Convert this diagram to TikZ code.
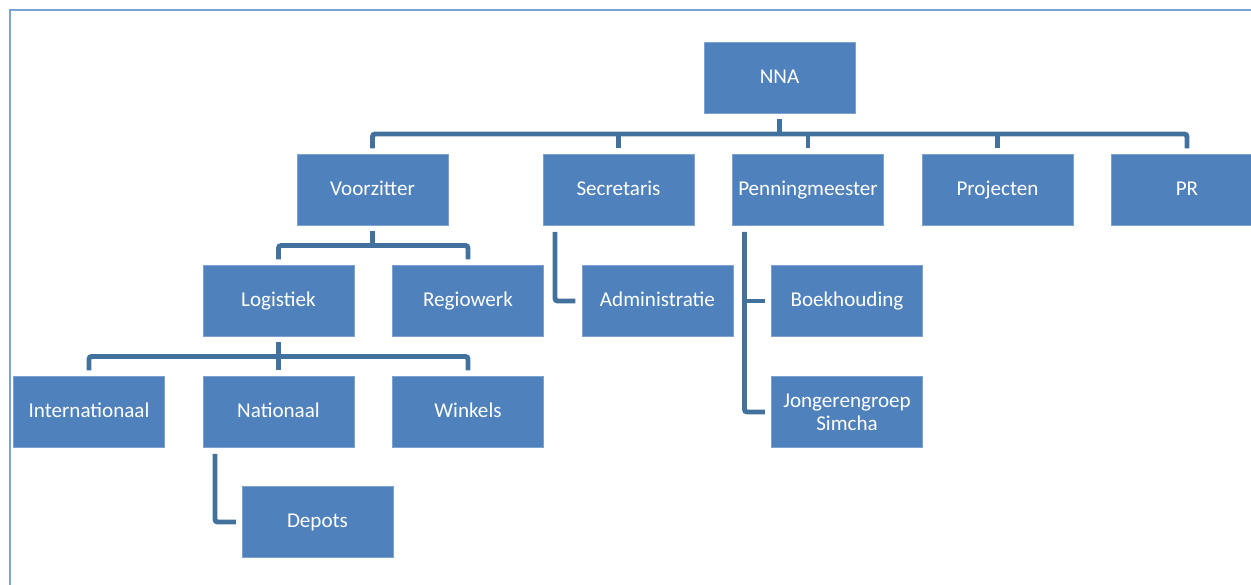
\documentclass[tikz,border=0pt]{standalone}
\usepackage{fontspec}
\setmainfont{Carlito}
\usetikzlibrary{positioning}
\definecolor{boxblue}{HTML}{4F81BD}
\definecolor{boxedge}{HTML}{7EA1CF}
\definecolor{linkblue}{HTML}{41719C}
\definecolor{frameblue}{HTML}{7BA2D5}

\begin{document}
\begin{tikzpicture} [
    every node/.style={draw=boxedge, fill=boxblue, text=white, line width=0.4pt,
      minimum width=3.02cm, minimum height=1.42cm, inner sep=2pt, outer sep=0pt,
      text height=1.65ex, text depth=0.45ex,
      font=\fontsize{12}{13}\selectfont, align=center},
    link/.style={draw=linkblue, line width=2.8pt, rounded corners=1.5pt},
    frame/.style={draw=frameblue, line width=0.8pt}
  ]

  \useasboundingbox (-15.59,-10.14) rectangle (9.43,1.56);
  \draw[frame] (-15.39,-10.14) -- (-15.39,1.36) -- (9.43,1.36);

  % Nodes and Positions
  % LEVEL 0 (TOP)
  \node (NNA) {NNA};

  % LEVEL -1
  \node (SECR) [below left=0.82cm and 0.2cm of NNA] {Secretaris};
  \node (PENN) [right=0.77cm of SECR] {Penningmeester};
  \node (PROJ) [right=0.77cm of PENN] {Projecten};
  \node (PR) [right=0.77cm of PROJ] {PR};
  \node (VOORZ) [left=1.9cm of SECR] {Voorzitter};

  % LEVEL -2
  \node (ADMIN) [below=0.8cm of SECR, xshift=0.78cm] {Administratie};
  \node (REGIO) [left=0.77cm of ADMIN] {Regiowerk};
  \node (LOGI) [left=0.77cm of REGIO] {Logistiek};
  \node (BOEK) [below=0.8cm of PENN, xshift=0.78cm] {Boekhouding};

  % LEVEL -3
  \node (NATIO) [below=0.8cm of LOGI] {Nationaal};
  \node (INTER) [left=0.77cm of NATIO] {Internationaal};
  \node (WINK) [right=0.77cm of NATIO] {Winkels};
  \node (JONG) [below=0.8cm of BOEK, text height=, text depth=] {Jongerengroep\\Simcha};

  % LEVEL -4
  \node (DEPOT) [below=0.78cm of NATIO, xshift=0.78cm] {Depots};

  % Edges
  \coordinate (busNNA) at ([yshift=-0.41cm]NNA.south);
  \draw[link] ([yshift=-0.12cm]NNA.south) -- (busNNA);
  \draw[link] ([yshift=0.12cm]VOORZ.north) |- (busNNA) -| ([yshift=0.12cm]PR.north);
  \foreach \n in {SECR, PENN, PROJ}
    \draw[link] ([yshift=0.12cm]\n.north) -- (\n.north |- busNNA);

  \coordinate (busVOORZ) at ([yshift=-0.4cm]VOORZ.south);
  \draw[link] ([yshift=-0.12cm]VOORZ.south) -- (busVOORZ);
  \draw[link] ([yshift=0.12cm]LOGI.north) |- (busVOORZ) -| ([yshift=0.12cm]REGIO.north);

  \coordinate (busLOGI) at ([yshift=-0.4cm]LOGI.south);
  \draw[link] ([yshift=-0.12cm]LOGI.south) -- (busLOGI);
  \draw[link] ([yshift=0.12cm]INTER.north) |- (busLOGI) -| ([yshift=0.12cm]WINK.north);
  \draw[link] ([yshift=0.12cm]NATIO.north) -- (busLOGI);

  \draw[link] ([xshift=0.24cm, yshift=-0.13cm]SECR.south west) |- ([xshift=-0.13cm]ADMIN.west);

  \coordinate (spinePENN) at ([xshift=0.24cm, yshift=-0.13cm]PENN.south west);
  \draw[link] (spinePENN) |- ([xshift=-0.13cm]JONG.west);
  \draw[link] (spinePENN |- BOEK.west) -- ([xshift=-0.13cm]BOEK.west);

  \draw[link] ([xshift=0.24cm, yshift=-0.13cm]NATIO.south west) |- ([xshift=-0.12cm]DEPOT.west);

\end{tikzpicture}
\end{document}
